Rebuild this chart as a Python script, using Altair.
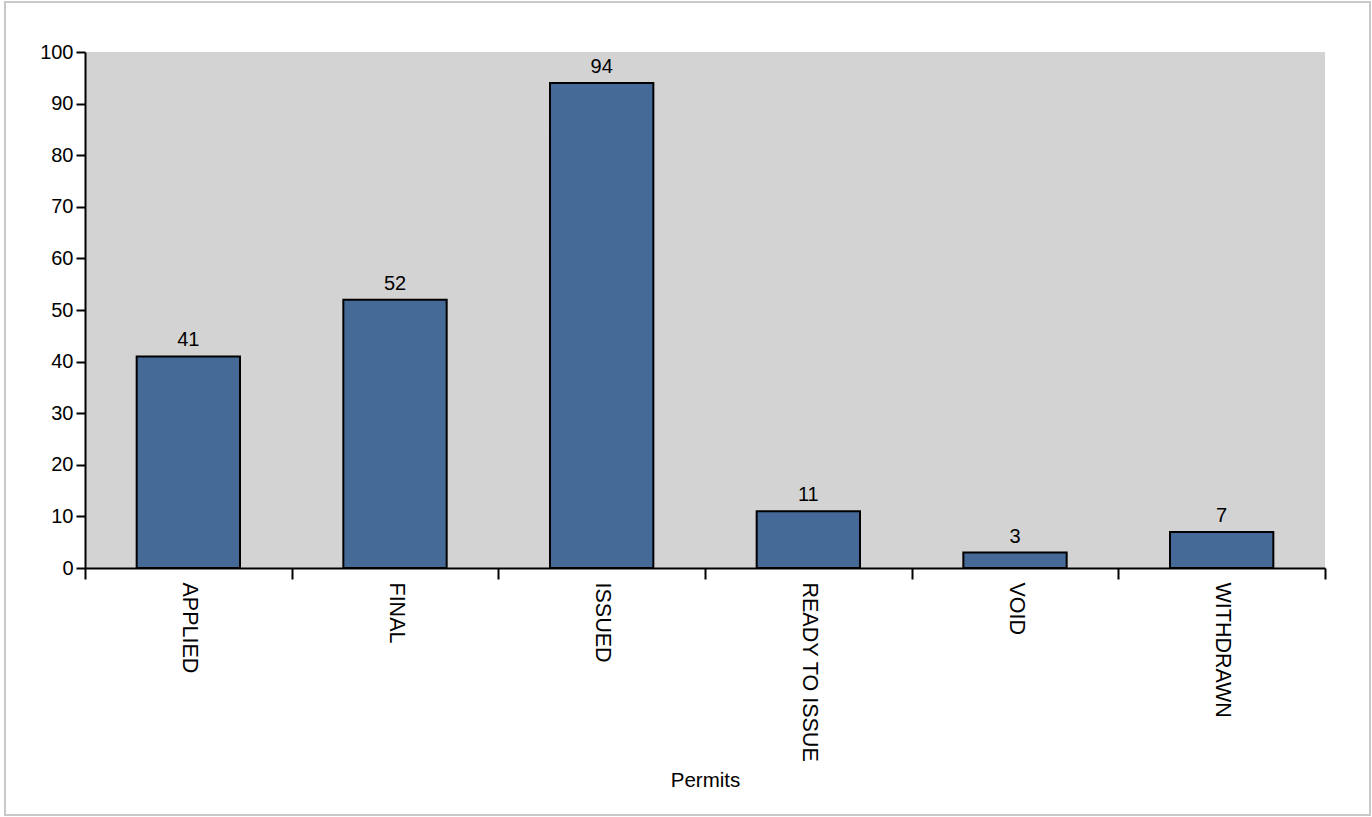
import altair as alt
import pandas as pd

categories = ["APPLIED", "FINAL", "ISSUED", "READY TO ISSUE", "VOID", "WITHDRAWN"]
counts = [41, 52, 94, 11, 3, 7]

df = pd.DataFrame({"status": categories, "count": counts})

FONT = "Liberation Sans"

base = alt.Chart(df)

bars = base.mark_bar(
    color="#456a97", stroke="black", strokeWidth=2, width=alt.RelativeBandSize(0.5)
).encode(
    x=alt.X(
        "status:N",
        sort=categories,
        scale=alt.Scale(paddingInner=0, paddingOuter=0),
        axis=alt.Axis(
            title="Permits",
            labelAngle=90,
            labelFontSize=21.5,
            labelFont=FONT,
            labelColor="black",
            labelPadding=3,
            tickBand="extent",
            tickSize=11,
            tickWidth=2,
            tickColor="black",
            domainColor="black",
            domainWidth=2,
            titleFont=FONT,
            titleFontSize=20.5,
            titleFontWeight="normal",
            titleColor="black",
            titleBaseline="alphabetic",
            titleY=218,
            labelLimit=0,
        ),
    ),
    y=alt.Y(
        "count:Q",
        scale=alt.Scale(domain=[0, 100], nice=False),
        axis=alt.Axis(
            title=None,
            values=list(range(0, 101, 10)),
            labelFontSize=20,
            labelFont=FONT,
            labelColor="black",
            labelPadding=3,
            tickSize=9,
            tickWidth=2,
            tickColor="black",
            domainColor="black",
            domainWidth=2,
            grid=False,
        ),
    ),
)

labels = base.mark_text(
    font=FONT, fontSize=20, color="black", baseline="alphabetic", dy=-10
).encode(
    x=alt.X("status:N", sort=categories),
    y=alt.Y("count:Q"),
    text=alt.Text("count:Q"),
)

border = alt.Chart(pd.DataFrame({"a": [0]})).mark_rect(
    fill="transparent", stroke="#c8c8c8", strokeWidth=2
).encode(
    x=alt.value(-80),
    x2=alt.value(1285),
    y=alt.value(-50),
    y2=alt.value(763),
)

chart = alt.layer(border, bars, labels).properties(
    width=1240,
    height=516,
    autosize=alt.AutoSizeParams(type="none"),
    padding={"left": 85, "top": 52, "right": 47, "bottom": 249},
).configure(
    background="white",
    view=alt.ViewConfig(fill="#d3d3d3", stroke=None),
)

chart.save("out.html", embed_options={"renderer": "svg", "actions": False})
